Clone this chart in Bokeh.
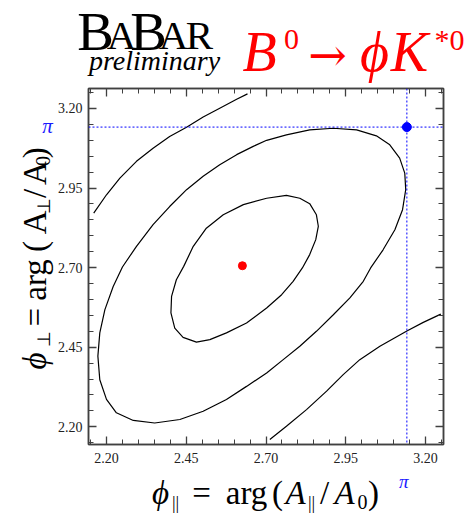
import math
from bokeh.plotting import figure
from bokeh.layouts import column, row
from bokeh.models import (Range1d, LinearAxis, FixedTicker, Span,
                          CustomJSTickFormatter, NumeralTickFormatter)
from bokeh.core.properties import value
from bokeh.embed import file_html
from bokeh.resources import INLINE

# ---------------- data ----------------
major_ticks = [2.20, 2.45, 2.70, 2.95, 3.20]
minor_ticks = [2.15, 2.25, 2.30, 2.35, 2.40, 2.50, 2.55, 2.60, 2.65, 2.75,
               2.80, 2.85, 2.90, 3.00, 3.05, 3.10, 3.15, 3.25]

best_fit_x = [2.626]
best_fit_y = [2.706]
pi_point_x = [math.pi]
pi_point_y = [math.pi]

inner_x = [2.702, 2.764, 2.806, 2.837, 2.858, 2.864, 2.856, 2.837, 2.814,
           2.785, 2.749, 2.702, 2.639, 2.576, 2.524, 2.482, 2.440, 2.414,
           2.402, 2.404, 2.419, 2.442, 2.472, 2.513, 2.566, 2.629, 2.702]
inner_y = [2.918, 2.927, 2.918, 2.901, 2.866, 2.830, 2.788, 2.741, 2.699,
           2.657, 2.615, 2.573, 2.526, 2.495, 2.474, 2.466, 2.481, 2.510,
           2.558, 2.610, 2.662, 2.704, 2.767, 2.824, 2.866, 2.898, 2.918]

middle_x = [2.702, 2.764, 2.837, 2.911, 2.984, 3.046, 3.088, 3.119, 3.135,
            3.138, 3.128, 3.104, 3.067, 3.028, 3.005, 2.963, 2.911, 2.858,
            2.806, 2.754, 2.702, 2.639, 2.576, 2.503, 2.430, 2.351, 2.284,
            2.231, 2.200, 2.179, 2.173, 2.179, 2.195, 2.221, 2.250, 2.294,
            2.346, 2.398, 2.451, 2.503, 2.555, 2.608, 2.660, 2.702]
middle_y = [3.100, 3.117, 3.133, 3.138, 3.133, 3.114, 3.086, 3.044, 2.997,
            2.945, 2.882, 2.819, 2.756, 2.699, 2.657, 2.605, 2.552, 2.500,
            2.453, 2.411, 2.369, 2.327, 2.286, 2.249, 2.223, 2.212, 2.220,
            2.244, 2.286, 2.348, 2.422, 2.495, 2.568, 2.641, 2.702, 2.767,
            2.835, 2.892, 2.945, 2.987, 3.023, 3.055, 3.081, 3.100]

outer_ul_x = [2.160, 2.200, 2.242, 2.294, 2.346, 2.398, 2.451, 2.503, 2.555,
              2.608, 2.642]
outer_ul_y = [2.871, 2.929, 2.981, 3.034, 3.075, 3.112, 3.141, 3.173, 3.201,
              3.229, 3.246]

outer_lr_x = [2.712, 2.764, 2.827, 2.890, 2.942, 2.994, 3.057, 3.143, 3.193,
              3.248]
outer_lr_y = [2.160, 2.202, 2.254, 2.312, 2.364, 2.411, 2.453, 2.502, 2.528,
              2.554]

X_LO, X_HI = 2.1436, 3.2564
Y_LO, Y_HI = 2.1444, 3.2628

# ---------------- layout geometry (pixels) ----------------
W, H = 466, 516
HEAD_H = 86
YLAB_W = 54
MAIN_TOP, MAIN_BOT = 86, 469
FL, FR, FT, FB = 88, 443, 88, 444
MAIN_H = MAIN_BOT - MAIN_TOP
XLAB_H = H - MAIN_BOT

# ---------------- main figure ----------------
p = figure(width=W - YLAB_W, height=MAIN_H, output_backend="svg",
           toolbar_location=None,
           x_range=Range1d(X_LO, X_HI), y_range=Range1d(Y_LO, Y_HI),
           x_axis_location=None, y_axis_location=None,
           min_border_left=FL - YLAB_W, min_border_right=W - FR,
           min_border_top=FT - MAIN_TOP, min_border_bottom=MAIN_BOT - FB)
p.grid.visible = False
p.outline_line_color = "#404040"
p.outline_line_width = 1.5

AX_COLOR = "#404040"
ticker = FixedTicker(ticks=major_ticks, minor_ticks=minor_ticks)


def make_axis(labels=True):
    ax = LinearAxis(ticker=ticker)
    ax.axis_line_color = AX_COLOR
    ax.axis_line_width = 1.5
    ax.major_tick_in = 8
    ax.major_tick_out = 0
    ax.minor_tick_in = 5
    ax.minor_tick_out = 0
    ax.major_tick_line_color = AX_COLOR
    ax.minor_tick_line_color = AX_COLOR
    ax.major_tick_line_width = 1.3
    ax.minor_tick_line_width = 1.0
    if labels:
        ax.formatter = NumeralTickFormatter(format="0.00")
        ax.major_label_text_font = "Liberation Serif"
        ax.major_label_text_font_size = "14px"
        ax.major_label_text_color = "#222222"
    else:
        ax.formatter = CustomJSTickFormatter(code="return ''")
        ax.major_label_text_font_size = "0px"
        ax.major_label_standoff = 0
    return ax


bx = make_axis(True)
bx.major_label_standoff = 8
p.add_layout(bx, "below")
ly = make_axis(True)
ly.major_label_standoff = 6
p.add_layout(ly, "left")
p.add_layout(make_axis(False), "above")
p.add_layout(make_axis(False), "right")

p.add_layout(Span(location=math.pi, dimension="width", line_color="#0000ff",
                  line_dash="2 2", line_width=1))
p.add_layout(Span(location=math.pi, dimension="height", line_color="#0000ff",
                  line_dash="2 2", line_width=1))

for xs, ys in [(inner_x, inner_y), (middle_x, middle_y),
               (outer_ul_x, outer_ul_y), (outer_lr_x, outer_lr_y)]:
    p.line(xs, ys, line_color="black", line_width=1.2)

p.scatter(best_fit_x, best_fit_y, size=8, fill_color="#ff0000",
          line_color="#ff0000")
p.scatter(pi_point_x, pi_point_y, size=9, fill_color="#0000ff",
          line_color="#0000ff")


# ---------------- text strips (page-pixel coordinates) ----------------
def strip(w, h, x0, y0):
    f = figure(width=w, height=h, output_backend="svg", toolbar_location=None,
               x_range=Range1d(x0, x0 + w), y_range=Range1d(y0 + h, y0),
               min_border=0, min_border_left=0, min_border_right=0,
               min_border_top=0, min_border_bottom=0)
    f.axis.visible = False
    f.grid.visible = False
    f.outline_line_color = None
    return f


K_SHIFT = 0.26   # renderer draws 'alphabetic' text this many em too low


def put(f, text, X, Y, size, style="normal", color="black", align="center",
        angle=0.0, font="Liberation Serif"):
    if angle == 0.0:
        Y = Y - K_SHIFT * size
    else:
        X = X - K_SHIFT * size
    f.text(x=[X], y=[Y], text=[text], text_font=value(font),
           text_font_size=f"{size}px", text_font_style=style,
           text_color=color, text_align=align, text_baseline="alphabetic",
           angle=angle)


head = strip(W, HEAD_H, 0, 0)
ylab = strip(YLAB_W, MAIN_H, 0, MAIN_TOP)
xlab = strip(W, XLAB_H, 0, MAIN_BOT)

# header: BaBar logo (centres of letters)
put(head, "B", 95, 45, 55)
put(head, "A", 121, 45, 41)
put(head, "B", 148, 45, 55)
put(head, "A", 173, 45, 41)
put(head, "R", 199, 45, 41)
put(head, "preliminary", 154, 67, 28, style="italic")

# header: red decay
RED = "#ff0000"
put(head, "B", 259, 66, 56, style="italic", color=RED)
put(head, "0", 291, 47, 30, color=RED)
put(head, "→", 327, 66, 46, color=RED, font="DejaVu Serif")
put(head, "ϕ", 374, 66, 56, style="italic", color=RED)
put(head, "K", 409, 66, 56, style="italic", color=RED)
put(head, "*0", 449, 47, 30, color=RED)

# blue pi labels, placed from the value pi through the frame's linear map
PI_SX = FL + (math.pi - X_LO) / (X_HI - X_LO) * (FR - FL)
PI_SY = FB - (math.pi - Y_LO) / (Y_HI - Y_LO) * (FB - FT)
BLUE_T = "#1a1aff"
put(ylab, "π", 47, PI_SY + 5, 21, style="italic", color=BLUE_T)
put(xlab, "π", PI_SX - 3, 486, 19, style="italic", color=BLUE_T)

# x-axis title (piece centres)
put(xlab, "ϕ", 160, 501, 33, style="italic")
put(xlab, "||", 175, 507, 18)
put(xlab, "=", 201, 501, 33)
put(xlab, "arg", 246, 501, 33)
put(xlab, "(", 277, 501, 33)
put(xlab, "A", 295, 501, 33, style="italic")
put(xlab, "||", 311, 507, 18)
put(xlab, "/", 324, 501, 33)
put(xlab, "A", 344, 501, 33, style="italic")
put(xlab, "0", 362, 507, 20)
put(xlab, ")", 373, 501, 33)

# y-axis title (rotated, piece centres along the text)
R90 = math.pi / 2
put(ylab, "ϕ", 43, 379, 33, style="italic", angle=R90)
put(ylab, "⊥", 48, 356, 18, angle=R90)
put(ylab, "=", 43, 332, 33, angle=R90)
put(ylab, "arg", 43, 292, 33, angle=R90)
put(ylab, "(", 43, 256, 33, angle=R90)
put(ylab, "A", 43, 230, 33, angle=R90)
put(ylab, "⊥", 48, 212, 18, angle=R90)
put(ylab, "/", 43, 199, 33, angle=R90)
put(ylab, "A", 43, 177, 33, angle=R90)
put(ylab, "0", 48, 164, 20, angle=R90)
put(ylab, ")", 43, 155, 33, angle=R90)

layout = column(head, row(ylab, p, spacing=0), xlab, spacing=0)
open("out.html", "w").write(file_html(layout, INLINE))
